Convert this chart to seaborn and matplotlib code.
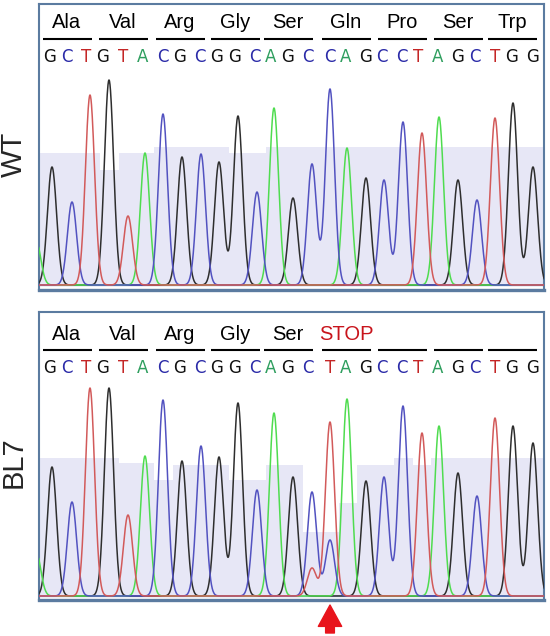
import numpy as np
import pandas as pd
import matplotlib
matplotlib.use("Agg")
import matplotlib.pyplot as plt
import seaborn as sns

# Sequence / labels
amino_wt = ["Ala", "Val", "Arg", "Gly", "Ser", "Gln", "Pro", "Ser", "Trp"]
amino_bl7 = ["Ala", "Val", "Arg", "Gly", "Ser", "STOP", "", "", ""]
seq_wt = list("GCTGTACGCGGCAGCCAGCCTAGCTGG")
seq_bl7 = list("GCTGTACGCGGCAGCTAGCCTAGCTGG")

# base call positions (scan units) and peak centres
call_pos = [50, 67, 86, 103, 123, 143, 163, 180, 200, 217, 235, 255, 271, 288,
            308, 330, 346, 366, 382, 402, 418, 438, 458, 475, 495, 512, 533]
peak_pos = [52, 72, 90, 109, 128, 145, 163, 182, 201, 219, 238, 257, 274, 293,
            312, 330, 347, 366, 384, 403, 422, 439, 458, 477, 495, 513, 533]

# peak heights
peak_wt = [118, 83, 190, 205, 69, 132, 171, 128, 131, 123, 169, 93, 177, 87,
           121, 196, 137, 107, 105, 163, 152, 168, 105, 85, 167, 182, 118]
peak_bl7 = [129, 94, 208, 208, 81, 140, 196, 135, 150, 139, 193, 106, 183, 119,
            104, 174, 197, 115, 119, 190, 163, 170, 123, 100, 178, 170, 153]

# secondary (hidden) peaks
extra_pos_wt = [36]
extra_h_wt = [45]
extra_base_wt = ["A"]
extra_pos_bl7 = [36, 312, 330]
extra_h_bl7 = [45, 28, 56]
extra_base_bl7 = ["A", "T", "C"]

# quality bars per base
qual_wt = [132, 132, 132, 115, 132, 132, 138, 138, 138, 138, 132, 132, 138, 138,
           138, 138, 138, 138, 138, 138, 138, 138, 138, 138, 138, 138, 138]
qual_bl7 = [138, 138, 138, 138, 133, 133, 116, 131, 131, 131, 116, 116, 131, 131,
            64, 64, 93, 131, 131, 138, 131, 138, 138, 138, 138, 138, 138]

trace_colors = {"G": "#2e2e2e", "A": "#4fdc4f", "C": "#5252c0", "T": "#d25a5a"}
letter_colors = {"G": "#111111", "A": "#2e9e5e", "C": "#2b2ba8", "T": "#c42626"}
SIGMA = 4.6


def make_traces(heights, seq, ex_pos, ex_h, ex_base):
    x = np.arange(30, 552, 0.25)
    pos = peak_pos + ex_pos
    hts = heights + ex_h
    bases = seq + ex_base
    frames = []
    for b in "GACT":
        y = np.zeros_like(x)
        for p, h, bb in zip(pos, hts, bases):
            if bb == b:
                y += h * np.exp(-(x - p) ** 2 / (2 * SIGMA ** 2))
        frames.append(pd.DataFrame({"scan": x, "signal": y, "base": b}))
    return pd.concat(frames, ignore_index=True)


def draw_panel(ax, heights, seq, qual, amino, ex_pos, ex_h, ex_base, ylim):
    edges = [30] + [(a + b) / 2 for a, b in zip(peak_pos[:-1], peak_pos[1:])] + [552]
    ax.stairs(qual, edges, fill=True, color="#e7e7f6", zorder=1)
    ax.axhline(0, color="#9fb0d4", lw=1.0, zorder=1)

    df = make_traces(heights, seq, ex_pos, ex_h, ex_base)
    sns.lineplot(data=df, x="scan", y="signal", hue="base", palette=trace_colors,
                 estimator=None, sort=False, lw=1.1, legend=False, ax=ax, zorder=3)

    for p, b in zip(call_pos, seq):
        ax.text(p, 228, b, ha="center", va="center", fontsize=12,
                family="DejaVu Sans", color=letter_colors[b])

    for k, name in enumerate(amino):
        c = call_pos[3 * k + 1]
        ax.plot([c - 24, c + 25], [246, 246], color="black", lw=1.5,
                solid_capstyle="butt", zorder=3)
        color = "#c8141c" if name == "STOP" else "black"
        ax.text(c, 262, name, ha="center", va="center", fontsize=14.5,
                family="Liberation Sans", color=color)

    ax.set_xlim(39, 544)
    ax.set_ylim(*ylim)
    ax.set_xticks([])
    ax.set_yticks([])
    ax.set_xlabel("")
    ax.set_ylabel("")
    ax.set_facecolor("white")
    for s in ax.spines.values():
        s.set_color("#5b7ba0")
        s.set_linewidth(1.5)
    ax.spines["bottom"].set_linewidth(2.4)


sns.set_style("white")
fig = plt.figure(figsize=(5.5, 6.36), dpi=100)
W, H = 550, 636

ax_wt = fig.add_axes([39 / W, 1 - 290 / H, 505 / W, 286 / H])
ax_bl7 = fig.add_axes([39 / W, 1 - 600 / H, 505 / W, 288 / H])

draw_panel(ax_wt, peak_wt, seq_wt, qual_wt, amino_wt,
           extra_pos_wt, extra_h_wt, extra_base_wt, (-5, 281))
draw_panel(ax_bl7, peak_bl7, seq_bl7, qual_bl7, amino_bl7,
           extra_pos_bl7, extra_h_bl7, extra_base_bl7, (-4, 284))

fig.text(14 / W, 1 - 154 / H, "WT", rotation=90, ha="center", va="center",
         fontsize=21, family="Liberation Sans")
fig.text(14 / W, 1 - 462 / H, "BL7", rotation=90, ha="center", va="center",
         fontsize=21, family="Liberation Sans")

# red arrow under the mutated base
ax_bl7.annotate("", xy=(call_pos[15], -9), xytext=(call_pos[15], -37),
                arrowprops=dict(arrowstyle="simple,head_width=1.2,head_length=1.1,tail_width=0.45",
                                color="#e8141c", shrinkA=0, shrinkB=0, mutation_scale=14),
                annotation_clip=False)

fig.savefig("out.png", dpi=100)
